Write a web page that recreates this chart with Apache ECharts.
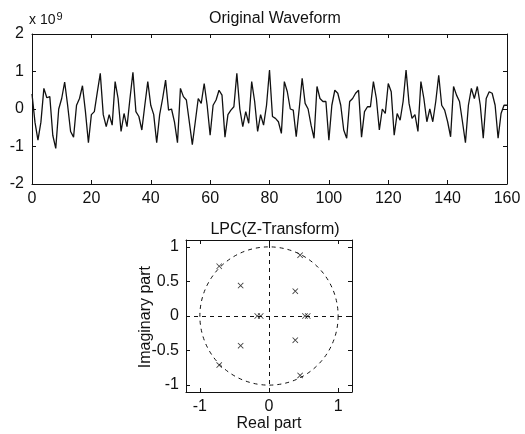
<!DOCTYPE html>
<html>
<head>
<meta charset="utf-8">
<script src="https://cdn.jsdelivr.net/npm/echarts@6/dist/echarts.min.js"></script>
<style>
  html, body { margin: 0; padding: 0; background: #fff; }
  #main { width: 525px; height: 434px; }
</style>
</head>
<body>
<div id="main"></div>
<script>
// waveform, in units of 1e9, one value per sample 0..160
const waveform = [
  0.4, -0.35, -0.83, -0.35, 0.55, 0.3, 0.33, -0.7, -1.05, 0.0,
  0.28, 0.72, 0.1, -0.6, -0.75, 0.1, 0.28, 0.62, -0.07, -0.9,
  -0.15, -0.07, 0.45, 0.95, -0.15, -0.47, -0.15, -0.43, 0.73, 0.28,
  -0.6, -0.12, -0.47, 0.28, 0.98, -0.07, -0.2, -0.56, 0.1, 0.73,
  0.1, -0.15, -0.9, -0.15, 0.28, 0.77, -0.03, 0.0, -0.35, -0.9,
  0.55, 0.33, 0.24, -0.35, -0.95, -0.34, 0.28, 0.15, 0.68, 0.1,
  -0.7, 0.1, 0.24, 0.5, 0.37, -0.75, -0.15, -0.03, 0.06, 0.95,
  0.0, -0.47, -0.07, -0.38, 0.73, 0.2, -0.6, -0.15, -0.43, 0.1,
  1.04, -0.2, -0.25, -0.34, -0.65, 0.73, 0.46, 0.0, -0.03, -0.74,
  0.0, 0.82, 0.15, 0.0, -0.43, -0.78, 0.6, 0.28, 0.2, 0.2,
  -0.83, 0.1, 0.5, 0.42, 0.1, -0.56, -0.78, 0.2, 0.28, 0.42,
  0.5, -0.75, -0.07, 0.06, 0.06, 0.73, 0.28, -0.56, 0.0, -0.12,
  0.68, 0.46, -0.7, -0.12, -0.3, 0.2, 1.04, 0.15, -0.25, -0.15,
  -0.6, 0.73, 0.28, -0.34, 0.0, -0.34, 0.2, 0.9, 0.1, -0.03,
  -0.34, -0.74, 0.6, 0.37, 0.2, -0.34, -0.9, 0.1, 0.55, 0.28,
  0.6, 0.1, -0.78, 0.28, 0.46, 0.42, 0.1, -0.78, -0.12, 0.1,
  0.1
];

// LPC roots, [real, imaginary]
const lpcRoots = [
  [0.45, 0.88], [-0.72, 0.72], [-0.41, 0.44], [0.38, 0.36],
  [-0.17, 0], [-0.12, 0], [0.52, 0], [0.56, 0],
  [0.38, -0.35], [-0.41, -0.43], [-0.72, -0.71], [0.45, -0.86]
];
const zXTicks = [-1, 0, 1];
const zYTicks = [-1, -0.5, 0, 0.5, 1];

const font = 'Liberation Sans, Arial, sans-serif';
const ink = '#111';

const waveData = waveform.map(function (v, i) { return [i, v]; });
const crossSymbol = 'path://M0,1L1,0L5,4L9,0L10,1L6,5L10,9L9,10L5,6L1,10L0,9L4,5Z';

function boxAxis(extra) {
  return Object.assign({
    type: 'value',
    axisLine: { show: true, onZero: false, lineStyle: { color: ink, width: 1 } },
    axisTick: { show: true, inside: true, length: 4, lineStyle: { color: ink } },
    axisLabel: { show: false },
    splitLine: { show: false }
  }, extra);
}

function ticksAt(values) {
  return { show: true, inside: true, length: 4, customValues: values, lineStyle: { color: ink } };
}

const label = { color: ink, fontFamily: font, fontSize: 16 };

const chart = echarts.init(document.getElementById('main'));
const option = {
  backgroundColor: '#fff',
  animation: false,
  title: [
    { text: 'Original Waveform', left: 270, top: 6, textAlign: 'center',
      textStyle: { fontFamily: font, fontSize: 16, fontWeight: 'normal', color: ink } },
    { text: 'LPC(Z-Transform)', left: 270, top: 217, textAlign: 'center',
      textStyle: { fontFamily: font, fontSize: 16, fontWeight: 'normal', color: ink } }
  ],
  graphic: [
    { type: 'text', left: 29, top: 11,
      style: { text: 'x 10{s|9}', rich: { s: { fontSize: 11, verticalAlign: 'top', padding: [0, 0, 7, 1] } },
        font: '14px ' + font, fill: ink } },
    { type: 'text', left: 138, top: 266, rotation: Math.PI / 2,
      style: { text: 'Imaginary part', font: '16px ' + font, fill: ink } }
  ],
  grid: [
    { left: 32, top: 34, width: 475, height: 150 },
    { left: 186, top: 240, width: 166, height: 152 }
  ],
  xAxis: [
    boxAxis({ gridIndex: 0, min: 0, max: 160, interval: 20, position: 'bottom',
      axisLabel: Object.assign({ show: true, margin: 7 }, label) }),
    boxAxis({ gridIndex: 0, min: 0, max: 160, interval: 20, position: 'top' }),
    boxAxis({ gridIndex: 1, min: -1.2, max: 1.2, position: 'bottom',
      name: 'Real part', nameLocation: 'middle', nameGap: 22,
      nameTextStyle: { fontFamily: font, fontSize: 16, color: ink, verticalAlign: 'top' },
      axisTick: ticksAt(zXTicks),
      axisLabel: Object.assign({ show: true, margin: 7, customValues: zXTicks }, label) }),
    boxAxis({ gridIndex: 1, min: -1.2, max: 1.2, position: 'top', axisTick: ticksAt(zXTicks) })
  ],
  yAxis: [
    boxAxis({ gridIndex: 0, min: -2, max: 2, interval: 1, position: 'left',
      axisLabel: Object.assign({ show: true, margin: 8 }, label) }),
    boxAxis({ gridIndex: 0, min: -2, max: 2, interval: 1, position: 'right' }),
    boxAxis({ gridIndex: 1, min: -1.1, max: 1.1, position: 'left',
      axisTick: ticksAt(zYTicks),
      axisLabel: Object.assign({ show: true, margin: 7, customValues: zYTicks }, label) }),
    boxAxis({ gridIndex: 1, min: -1.1, max: 1.1, position: 'right', axisTick: ticksAt(zYTicks) })
  ],
  series: [
    {
      type: 'line', xAxisIndex: 0, yAxisIndex: 0,
      data: waveData, symbol: 'none',
      lineStyle: { color: ink, width: 1.3 }
    },
    {
      // unit circle, drawn through the axis scale
      type: 'custom', xAxisIndex: 2, yAxisIndex: 2,
      data: [[0, 0]],
      silent: true,
      renderItem: function (params, api) {
        const c = api.coord([0, 0]);
        const s = api.size([1, 1]);
        return {
          type: 'circle',
          shape: { cx: c[0], cy: c[1], r: (s[0] + s[1]) / 2 },
          style: { fill: 'none', stroke: ink, lineWidth: 1, lineDash: [4, 4] }
        };
      }
    },
    {
      type: 'scatter', xAxisIndex: 2, yAxisIndex: 2,
      data: lpcRoots,
      symbol: crossSymbol, symbolSize: 6,
      itemStyle: { color: ink },
      markLine: {
        silent: true, symbol: 'none', label: { show: false },
        lineStyle: { color: ink, type: [4, 4], width: 1 },
        data: [{ xAxis: 0 }, { yAxis: 0 }]
      }
    }
  ]
};
chart.setOption(option);
</script>
</body>
</html>
